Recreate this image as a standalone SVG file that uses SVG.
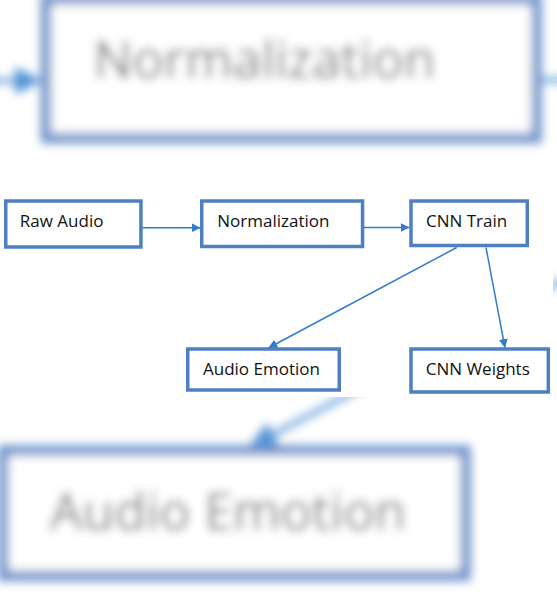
<svg xmlns="http://www.w3.org/2000/svg" width="557" height="596" viewBox="0 0 557 596">
  <defs>
    <style>
      .box { fill: #ffffff; stroke: #4f7fc1; stroke-width: 3.5; }
      .lbl { font-family: "Open Sans", "Liberation Sans", sans-serif; font-size: 17px; fill: #111111; }
      .conn { stroke: #2e7bcf; stroke-width: 1.5; fill: none; marker-end: url(#arrow); }
    </style>
    <marker id="arrow" viewBox="0 0 10 10" refX="10" refY="5" markerWidth="9" markerHeight="9" markerUnits="userSpaceOnUse" orient="auto">
      <path d="M0,0 L10,5 L0,10 z" fill="#2e7bcf"/>
    </marker>
    <filter id="blur" x="-10%" y="-10%" width="120%" height="120%">
      <feGaussianBlur stdDeviation="1.6"/>
    </filter>
  </defs>

  <rect x="0" y="0" width="557" height="596" fill="#ffffff"/>

  <!-- blurred magnified backdrop of the same diagram -->
  <g id="backdrop" opacity="0.82">
    <use href="#diagram" transform="translate(-569.3,-613.8) scale(3.05)" filter="url(#blur)"/>
  </g>

  <!-- white panel holding the sharp diagram -->
  <rect id="panel" x="0" y="175" width="553" height="222" fill="#ffffff"/>

  <g id="diagram">
    <g id="connectors">
      <line class="conn" x1="142.5" y1="227.7" x2="200.5" y2="227.7"/>
      <line class="conn" x1="364" y1="227.5" x2="409.5" y2="227.5"/>
      <line class="conn" x1="456.7" y1="247.5" x2="268.3" y2="348"/>
      <line class="conn" x1="486" y1="247.5" x2="505" y2="348"/>
    </g>
    <g id="node-raw-audio">
      <rect class="box" x="5.75" y="201" width="135.2" height="46"/>
      <text class="lbl" x="19.8" y="226.7">Raw Audio</text>
    </g>
    <g id="node-normalization">
      <rect class="box" x="201.75" y="201" width="160.8" height="45.5"/>
      <text class="lbl" x="217.3" y="226.7">Normalization</text>
    </g>
    <g id="node-cnn-train">
      <rect class="box" x="411" y="201" width="116.3" height="44.5"/>
      <text class="lbl" x="426" y="227">CNN Train</text>
    </g>
    <g id="node-audio-emotion">
      <rect class="box" x="187.75" y="349" width="151.5" height="41"/>
      <text class="lbl" x="203" y="375">Audio Emotion</text>
    </g>
    <g id="node-cnn-weights">
      <rect class="box" x="411" y="349" width="137.3" height="43"/>
      <text class="lbl" x="425.7" y="375">CNN Weights</text>
    </g>
  </g>
</svg>
